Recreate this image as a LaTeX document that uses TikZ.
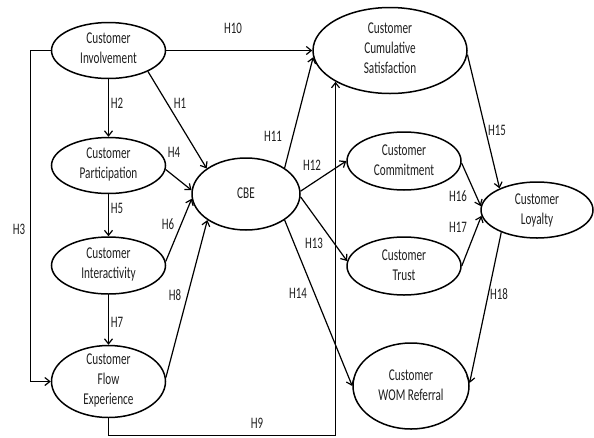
\documentclass[tikz,border=0pt]{standalone}
\usepackage{fontspec}
\setmainfont{Carlito}[FakeStretch=0.68]
\usetikzlibrary{shapes.geometric,arrows.meta}
\begin{document}
\begin{tikzpicture}[x=1pt,y=-1pt,
  ell/.style={draw, ellipse, line width=1.5pt, inner sep=0pt},
  txt/.style={align=center, inner sep=0pt, font=\fontsize{16.5}{20}\selectfont, text=black!88},
  arr/.style={line width=1.2pt, -{Straight Barb[length=5pt,width=8pt]}},
  hyp/.style={font=\fontsize{16}{18}\selectfont, text=black!88, inner sep=0pt}]
\useasboundingbox (0,0) rectangle (594,437);

% construct outlines (half-unit centres keep straight lines crisp)
\node[ell, minimum width=114pt, minimum height=56pt] (inv) at (108.5,50.5) {};
\node[ell, minimum width=114pt, minimum height=56pt] (par) at (108.5,165.5) {};
\node[ell, minimum width=114pt, minimum height=57pt] (itr) at (108.5,265.5) {};
\node[ell, minimum width=114pt, minimum height=72pt] (flow) at (108.5,381.5) {};
\node[ell, minimum width=108pt, minimum height=72pt] (cbe) at (246,194) {};
\node[ell, minimum width=154pt, minimum height=86pt] (sat) at (390,50.5) {};
\node[ell, minimum width=114pt, minimum height=58pt] (com) at (404,161) {};
\node[ell, minimum width=114pt, minimum height=58pt] (tru) at (404,266) {};
\node[ell, minimum width=116pt, minimum height=86pt] (wom) at (411,386) {};
\node[ell, minimum width=112pt, minimum height=56pt] (loy) at (537,210) {};

% construct names
\node[txt] (invT) at ([yshift=2]inv) {Customer\\Involvement};
\node[txt] (parT) at ([yshift=1]par) {Customer\\Participation};
\node[txt] (itrT) at ([yshift=1]itr) {Customer\\Interactivity};
\node[txt] (flowT) at ([yshift=1]flow) {Customer\\Flow\\Experience};
\node[txt] (cbeT) at ([yshift=1]cbe) {CBE};
\node[txt] (satT) at ([yshift=2]sat) {Customer\\Cumulative\\Satisfaction};
\node[txt] (comT) at ([yshift=1]com) {Customer\\Commitment};
\node[txt] (truT) at ([yshift=1]tru) {Customer\\Trust};
\node[txt] (womT) at ([yshift=1]wom) {Customer\\WOM Referral};
\node[txt] (loyT) at (loy) {Customer\\Loyalty};

% helper point for the routed H9 path
\coordinate (h9b) at (335.5,435.5);

% hypotheses
\draw[arr] (inv.-28) -- (cbe.147);
\draw[arr] (inv.south) -- (par.north);
\draw[arr] (inv.west) -- ++(-20,0) |- (flow.west);
\draw[arr] (par.-4) -- (cbe.176);
\draw[arr] (par.south) -- (itr.north);
\draw[arr] (itr.4) -- (cbe.185);
\draw[arr] (itr.south) -- (flow.north);
\draw[arr] (flow.4) -- (cbe.214);
\draw[arr] (flow.south) |- (h9b) -- (h9b |- sat.210);
\draw[arr] (inv.east) -- (sat.west);
\draw[arr] (cbe.34) -- (sat.185);
\draw[arr] (cbe.3) -- (com.west);
\draw[arr] (cbe.-3) -- (tru.175);
\draw[arr] (cbe.-34) -- (wom.west);
\draw[arr] (sat.-3) -- (loy.150);
\draw[arr] (com.-2) -- (loy.176);
\draw[arr] (tru.east) -- (loy.186);
\draw[arr] (loy.212) -- (wom.3);

% hypothesis labels
\node[hyp] (l1) at (180,103) {H1};
\node[hyp] (l2) at (117,103) {H2};
\node[hyp] (l3) at (19,229) {H3};
\node[hyp] (l4) at (174,152) {H4};
\node[hyp] (l5) at (117,208) {H5};
\node[hyp] (l6) at (168,224) {H6};
\node[hyp] (l7) at (117,322) {H7};
\node[hyp] (l8) at (175,295) {H8};
\node[hyp] (l9) at (257,423) {H9};
\node[hyp] (l10) at (233,28) {H10};
\node[hyp] (l11) at (273,136) {H11};
\node[hyp] (l12) at (312,165) {H12};
\node[hyp] (l13) at (314,243) {H13};
\node[hyp] (l14) at (298,293) {H14};
\node[hyp] (l15) at (497,130) {H15};
\node[hyp] (l16) at (458,196) {H16};
\node[hyp] (l17) at (458,227) {H17};
\node[hyp] (l18) at (499,294) {H18};
\end{tikzpicture}
\end{document}
